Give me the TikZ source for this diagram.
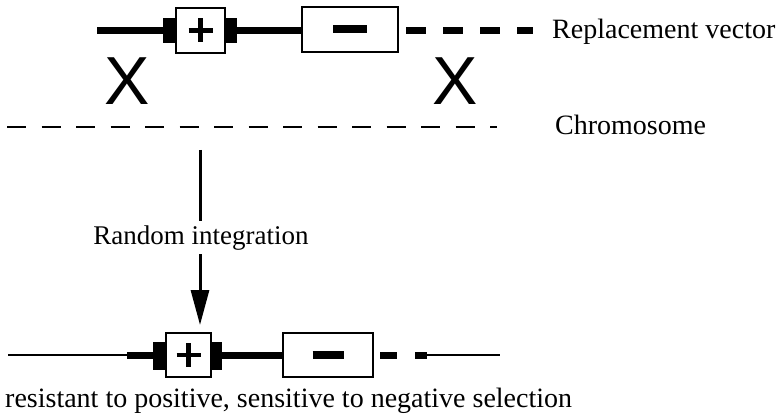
\documentclass[tikz,border=0pt]{standalone}
\usepackage{fontspec}
\setmainfont{Liberation Serif}
\newfontfamily\xfont{Liberation Sans}
\usetikzlibrary{arrows.meta}
\begin{document}
\begin{tikzpicture}[x=1pt,y=-1pt,
  genebox/.style={draw=black,line width=2pt,fill=white,inner sep=0pt,outer sep=0pt},
  blk/.style={fill=black,inner sep=0pt,outer sep=0pt},
  thickline/.style={line width=7pt},
  thinline/.style={line width=1.5pt},
  signline/.style={line width=4.5pt},
  minusline/.style={line width=8pt},
  chromo/.style={line width=2pt,dash pattern=on 19pt off 15.5pt},
  vecdash/.style={line width=7pt,dash pattern=on 20pt off 17pt},
  xmark/.style={font=\xfont\fontsize{68}{68}\selectfont,inner sep=0pt},
  lbl/.style={font=\fontsize{28}{28}\selectfont,inner sep=0pt,anchor=base west},
  arr/.style={line width=3pt},
]
\useasboundingbox (0,0) rectangle (783,419);

% ---------- replacement vector ----------
\coordinate (v0) at (97,30.5);
\node[blk,minimum width=13pt,minimum height=25pt] (lblk1) at (169.5,30.5) {};
\node[blk,minimum width=12pt,minimum height=25pt] (rblk1) at (231,30.5) {};
\node[genebox,minimum width=49pt,minimum height=45pt] (pbox1) at (200.5,30.5) {};
\node[genebox,minimum width=96pt,minimum height=45pt] (mbox1) at (350,29.5) {};
\coordinate (v1) at (406,30.5);
\coordinate (v2) at (533,30.5);
\draw[thickline] (v0) -- (lblk1.west);
\draw[line width=6.5pt] (rblk1.east) -- (mbox1.west |- rblk1.east);
\draw[signline] (pbox1.center) ++(-12,0) -- ++(24,0);
\draw[signline] (pbox1.center) ++(0,-12) -- ++(0,24);
\draw[minusline] (mbox1.center) ++(-17,0) -- ++(34,0);
\draw[vecdash] (v1) -- (v2);
\node[lbl] (rv) at (552,39) {Replacement vector};

% ---------- crossover marks ----------
\node[xmark] (x1) at (127.5,81) {X};
\node[xmark] (x2) at (455,81) {X};

% ---------- chromosome ----------
\coordinate (c0) at (7,127);
\coordinate (c1) at (497,127);
\draw[chromo] (c0) -- (c1);
\node[lbl] (chr) at (555,135) {Chromosome};

% ---------- arrow ----------
\coordinate (a0) at (200,150);
\coordinate (a3) at (200,325);
\node[font=\fontsize{27}{27}\selectfont,inner xsep=0pt,inner ysep=4pt,anchor=base] (ri) at (201,244) {Random integration};
\draw[arr] (a0) -- (a0 |- ri.north);
\draw[arr,-{Triangle[length=35pt,width=18pt]}] (a0 |- ri.south) -- (a3);

% ---------- integrated product ----------
\coordinate (b0) at (8,355);
\coordinate (b1) at (127,355);
\node[blk,minimum width=13pt,minimum height=28pt] (lblk2) at (159.5,356) {};
\node[blk,minimum width=11pt,minimum height=28pt] (rblk2) at (216.5,356) {};
\node[genebox,minimum width=45pt,minimum height=44pt] (pbox2) at (188.5,355) {};
\node[genebox,minimum width=90pt,minimum height=44pt] (mbox2) at (328,355) {};
\coordinate (d0) at (380,355);
\coordinate (d1) at (427,355);
\coordinate (b2) at (500,355);
\draw[thinline] (b0) -- (b1);
\draw[thickline] (b1) -- (lblk2.west |- b1);
\draw[thickline] (rblk2.east |- b1) -- (mbox2.west);
\draw[signline] (pbox2.center) ++(-12,0) -- ++(24,0);
\draw[signline] (pbox2.center) ++(0,-12) -- ++(0,24);
\draw[minusline] (mbox2.center) ++(-15.5,0) -- ++(31,0);
\draw[line width=7pt,dash pattern=on 17pt off 18pt on 12pt off 50pt] (d0) -- (d1);
\draw[thinline] (d1) -- (b2);
\node[lbl] (res) at (5,407) {resistant to positive, sensitive to negative selection};
\end{tikzpicture}
\end{document}
